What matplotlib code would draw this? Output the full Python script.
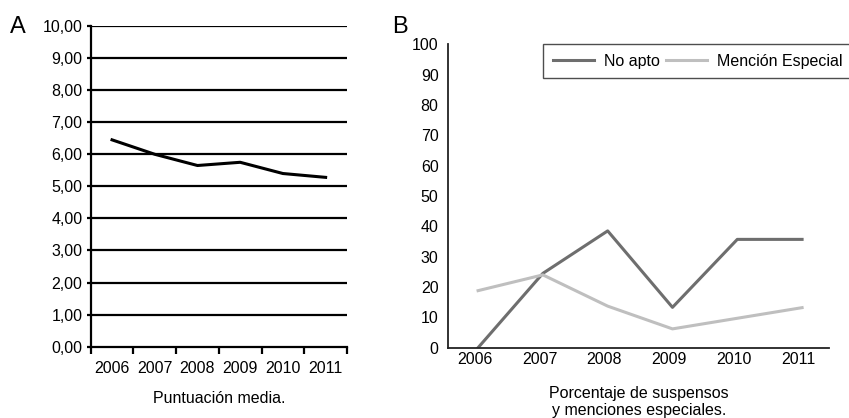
import matplotlib
matplotlib.use("Agg")
import matplotlib.pyplot as plt
import numpy as np

plt.rcParams['font.family'] = ['Liberation Sans', 'DejaVu Sans']

years = ["2006", "2007", "2008", "2009", "2010", "2011"]
puntuacion_media = [6.45, 6.00, 5.65, 5.75, 5.40, 5.28]
no_apto = [0.0, 24.5, 38.5, 13.3, 35.7, 35.7]
mencion_especial = [18.8, 24.0, 13.7, 6.2, 9.7, 13.2]
y_ticks_a = np.arange(0, 11, 1)
y_ticks_b = np.arange(0, 101, 10)

fs = 11.5
fig = plt.figure(figsize=(8.49, 4.18), dpi=100)

# Panel A
ax1 = fig.add_axes([0.1068, 0.1706, 0.3019, 0.7672])
x = np.arange(len(years))
for v in y_ticks_a[1:]:
    ax1.axhline(v, color="black", lw=1.6, zorder=1)
ax1.plot(x, puntuacion_media, color="black", lw=2.2, zorder=3)
ax1.set_xlim(-0.5, 5.5)
ax1.set_ylim(0, 10)
ax1.set_yticks(y_ticks_a)
ax1.set_yticklabels([f"{v:.2f}".replace(".", ",") for v in y_ticks_a], fontsize=fs)
ax1.set_xticks(np.arange(-0.5, 6, 1))
ax1.set_xticklabels([])
ax1.set_xticks(x, minor=True)
ax1.set_xticklabels(years, minor=True, fontsize=fs)
ax1.tick_params(axis="x", which="major", length=5, width=1.6, direction="out")
ax1.tick_params(axis="x", which="minor", length=0, pad=10)
ax1.tick_params(axis="y", length=3, width=1.6, pad=3)
for s in ["top", "right"]:
    ax1.spines[s].set_visible(False)
for s in ["left", "bottom"]:
    ax1.spines[s].set_linewidth(1.6)
ax1.set_xlabel("Puntuación media.", fontsize=fs, labelpad=11)
fig.text(0.012, 0.92, "A", fontsize=17)

# Panel B
ax2 = fig.add_axes([0.528, 0.1682, 0.4488, 0.7258])
ax2.plot(x, no_apto, color="#6e6e6e", lw=2.2, label="No apto")
ax2.plot(x, mencion_especial, color="#bfbfbf", lw=2.2, label="Mención Especial")
ax2.set_xlim(-0.46, 5.42)
ax2.set_ylim(0, 100)
ax2.set_yticks(y_ticks_b)
ax2.set_yticklabels([str(v) for v in y_ticks_b], fontsize=fs)
ax2.set_xticks(x - 0.05)
ax2.set_xticklabels(years, fontsize=fs)
ax2.tick_params(axis="both", length=0)
ax2.tick_params(axis="x", pad=3)
ax2.tick_params(axis="y", pad=7)
for s in ["top", "right"]:
    ax2.spines[s].set_visible(False)
for s in ["left", "bottom"]:
    ax2.spines[s].set_linewidth(1.3)
    ax2.spines[s].set_color("#222222")
ax2.set_xlabel("Porcentaje de suspensos\ny menciones especiales.", fontsize=fs, labelpad=14,
               linespacing=1.15)
leg = fig.legend(loc="upper left", bbox_to_anchor=(543 / 849, 1 - 44 / 418), ncol=2,
                 fontsize=fs, frameon=True, fancybox=False, edgecolor="#222222",
                 handlelength=2.6, handletextpad=0.6, columnspacing=0.4,
                 borderpad=0.6, borderaxespad=0)
leg.get_frame().set_linewidth(1.0)
fig.text(0.462, 0.92, "B", fontsize=17)

fig.savefig("out.png", dpi=100)
